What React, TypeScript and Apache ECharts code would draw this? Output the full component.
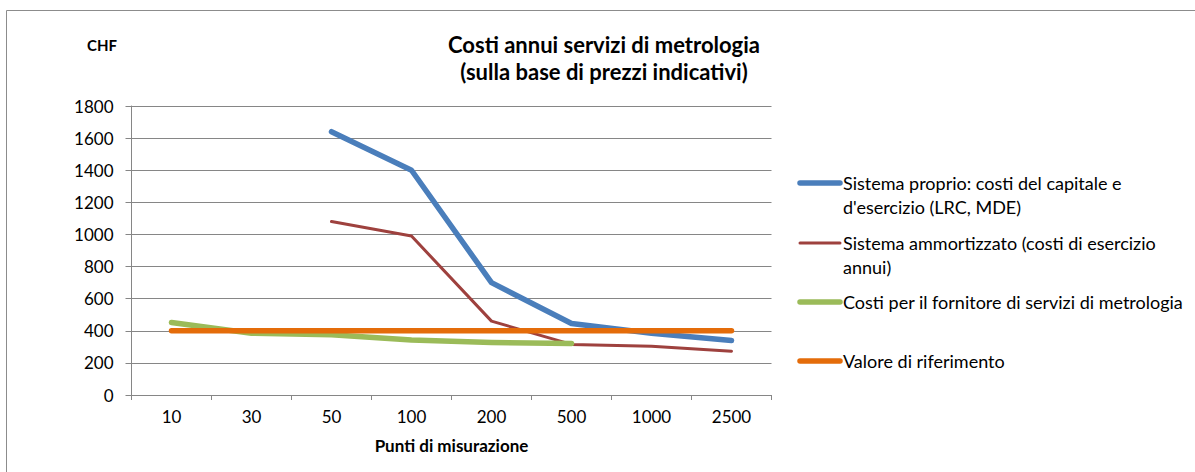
import React, { useEffect, useRef } from "react";
import * as echarts from "echarts";

const categories = ["10", "30", "50", "100", "200", "500", "1000", "2500"];
const sistemaProprio = [null, null, 1640, 1400, 700, 445, 385, 340];
const sistemaAmmortizzato = [null, null, 1080, 990, 460, 315, 303, 273];
const fornitore = [452, 385, 376, 343, 327, 321, null, null];
const valoreRiferimento = [400, 400, 400, 400, 400, 400, 400, 400];
const yTicks = { min: 0, max: 1800, interval: 200 };

const seriesNames = [
  "Sistema proprio: costi del capitale e\nd'esercizio (LRC, MDE)",
  "Sistema ammortizzato (costi di esercizio\nannui)",
  "Costi per il fornitore di servizi di metrologia",
  "Valore di riferimento",
];
const colors = ["#4A7EBB", "#9E413E", "#9BBB59", "#E46C0A"];
const widths = [5.5, 3, 5.5, 5.5];

const FONT = "Lato, 'Liberation Sans', sans-serif";

export default function App() {
  const ref = useRef<HTMLDivElement>(null);
  useEffect(() => {
    if (!ref.current) return;
    const chart = echarts.init(ref.current, undefined, { renderer: "svg" });
    const data = [sistemaProprio, sistemaAmmortizzato, fornitore, valoreRiferimento];
    const legendY = [183, 243, 302, 361];
    const legendGraphics: any[] = [];
    seriesNames.forEach((name, i) => {
      legendGraphics.push({
        type: "line",
        shape: { x1: 800, y1: legendY[i], x2: 840, y2: legendY[i] },
        style: { stroke: colors[i], lineWidth: widths[i], lineCap: "round" },
      });
      legendGraphics.push({
        type: "text",
        x: 843,
        y: legendY[i] - 12,
        style: {
          text: name,
          fill: "#000",
          font: `18px ${FONT}`,
          lineHeight: 24,
          textVerticalAlign: "top",
        },
      });
    });
    chart.setOption({
      animation: false,
      backgroundColor: "#fff",
      title: {
        text: "Costi annui servizi di metrologia\n(sulla base di prezzi indicativi)",
        left: 599,
        top: 26,
        textAlign: "center",
        textStyle: {
          fontFamily: FONT,
          fontWeight: "bold",
          fontSize: 22,
          lineHeight: 27,
          color: "#000",
        },
      },
      grid: { left: 131.5, right: 423.5, top: 106, bottom: 77, containLabel: false },
      xAxis: {
        type: "category",
        data: categories,
        boundaryGap: true,
        name: "Punti di misurazione",
        nameLocation: "middle",
        nameGap: 42,
        nameTextStyle: { fontFamily: FONT, fontWeight: "bold", fontSize: 17, color: "#000" },
        axisLine: { lineStyle: { color: "#868686", width: 1 } },
        axisTick: { show: true, length: 5, lineStyle: { color: "#868686" } },
        axisLabel: { fontFamily: FONT, fontSize: 17, color: "#000", margin: 13 },
        splitLine: { show: false },
      },
      yAxis: {
        type: "value",
        min: yTicks.min,
        max: yTicks.max,
        interval: yTicks.interval,
        axisLine: { show: true, lineStyle: { color: "#868686", width: 1 } },
        axisTick: { show: true, length: 6, lineStyle: { color: "#868686" } },
        axisLabel: {
          fontFamily: FONT,
          fontSize: 17,
          color: "#000",
          margin: 18,
          formatter: (v: number) => String(v),
        },
        splitLine: { show: true, lineStyle: { color: "#868686", width: 1 } },
      },
      graphic: [
        {
          type: "rect",
          shape: { x: 6.5, y: 10.5, width: 1300, height: 600 },
          style: { fill: "none", stroke: "#8c8c8c", lineWidth: 1 },
          silent: true,
          z: -10,
        },
        {
          type: "text",
          x: 102,
          y: 45,
          style: {
            text: "CHF",
            fill: "#000",
            font: `bold 15px ${FONT}`,
            textAlign: "center",
            textVerticalAlign: "middle",
          },
        },
        ...legendGraphics,
      ],
      series: data.map((d, i) => ({
        name: seriesNames[i],
        type: "line",
        data: d,
        symbol: "none",
        connectNulls: false,
        lineStyle: { color: colors[i], width: widths[i], cap: "round", join: "round" },
        itemStyle: { color: colors[i] },
        z: i === 3 ? 3 : 2 + (i === 0 ? 1 : 0),
      })),
    });
    return () => chart.dispose();
  }, []);
  return (
    <div
      ref={ref}
      style={{ position: "fixed", left: 0, top: 0, width: 1195, height: 472 }}
    />
  );
}
